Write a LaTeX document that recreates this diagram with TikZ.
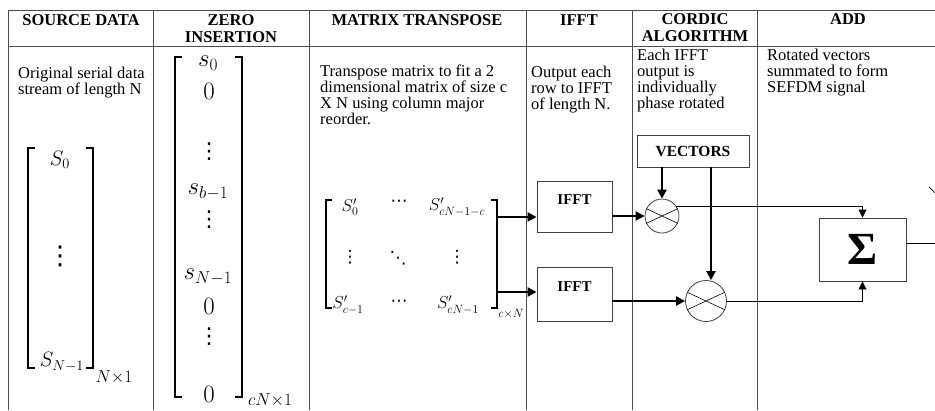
\documentclass[tikz,border=0pt]{standalone}
\usepackage{fontspec}
\setmainfont{Liberation Serif}
\newfontfamily\dotfont{DejaVu Sans}
\usepackage{amsmath}
\usetikzlibrary{arrows.meta}
\tikzset{
  rule/.style={draw=black!70, line width=0.9pt},
  head/.style={anchor=north, align=center, inner sep=0pt, font=\fontsize{16.5}{17}\selectfont\bfseries},
  note/.style={anchor=north west, align=left, inner sep=0pt, font=\fontsize{16.5}{16}\selectfont},
  unit/.style={draw=black!75, line width=0.9pt, inner sep=0pt, font=\fontsize{15}{15}\selectfont\bfseries},
  mixer/.style={draw=black!75, circle, line width=0.8pt, inner sep=0pt},
  bus/.style={line width=2.2pt, -{Triangle[length=9pt,width=9pt]}},
  wire/.style={line width=0.9pt, -{Triangle[length=8pt,width=8pt]}},
  brace/.style={line width=1.6pt},
  ent/.style={inner sep=0pt}
}
\begin{document}
\begin{tikzpicture}[x=1pt,y=-1pt]
  \useasboundingbox (0,0) rectangle (935,410);
  \path[rule] (8,10.5) -- (935,10.5);
  \path[rule] (8,46) -- (935,46);
  \foreach \x in {8,153,309,526,632,757}
    \path[rule] (\x,10.5) -- (\x,410);

  \node[head] (hsrc) at (81,14) {SOURCE DATA};
  \node[head] (hzero) at (231,14) {ZERO\\INSERTION};
  \node[head] (htr) at (417,14) {MATRIX TRANSPOSE};
  \node[head] (hifft) at (579,14) {IFFT};
  \node[head] (hcord) at (695,13) {CORDIC\\ALGORITHM};
  \node[head] (hadd) at (848,13) {ADD};

  \node[note] (tsrc) at (18,67) {Original serial data\\stream of length N};
  \node[note] (ttr) at (320,65) {Transpose matrix to fit a 2\\dimensional matrix of size c\\X N using column major\\reorder.};
  \node[note] (tifft) at (531,66) {Output each\\row to IFFT\\of length N.};
  \node[note] (tcord) at (637,49) {Each IFFT\\output is\\individually\\phase rotated};
  \node[note] (tadd) at (767,49) {Rotated vectors\\summated to form\\SEFDM signal};

  \path[draw, brace] (35,148) -- (28,148) -- (28,368) -- (35,368);
  \path[draw, brace] (86,148) -- (93,148) -- (93,368) -- (86,368);
  \node[ent, font=\fontsize{22}{24}\selectfont] (src0) at (60,160) {$S_0$};
  \node[ent, font=\fontsize{26}{26}\dotfont] (srcdots) at (60,256) {⋮};
  \node[ent, font=\fontsize{22}{24}\selectfont] (srcN) at (62,362) {$S_{N-1}$};
  \node[ent, font=\fontsize{16}{16}\selectfont] (srcdim) at (114,377) {$N{\times}1$};

  \path[draw, brace] (182,57) -- (175,57) -- (175,397) -- (182,397);
  \path[draw, brace] (235,57) -- (242,57) -- (242,397) -- (235,397);
  \node[ent, font=\fontsize{26}{26}\selectfont] (z0) at (208,63) {$s_0$};
  \node[ent, font=\fontsize{26}{26}\selectfont] (z1) at (209,91) {$0$};
  \node[ent, font=\fontsize{22}{22}\dotfont] (z2) at (209,152) {⋮};
  \node[ent, font=\fontsize{26}{26}\selectfont] (z3) at (208,192) {$s_{b-1}$};
  \node[ent, font=\fontsize{22}{22}\dotfont] (z4) at (209,220) {⋮};
  \node[ent, font=\fontsize{26}{26}\selectfont] (z5) at (208,277) {$s_{N-1}$};
  \node[ent, font=\fontsize{26}{26}\selectfont] (z6) at (209,306) {$0$};
  \node[ent, font=\fontsize{22}{22}\dotfont] (z7) at (209,337) {⋮};
  \node[ent, font=\fontsize{26}{26}\selectfont] (z8) at (209,394) {$0$};
  \node[ent, font=\fontsize{16}{16}\selectfont] (zdim) at (270,400) {$cN{\times}1$};

  \path[draw, brace] (332,200) -- (326,200) -- (326,308) -- (332,308);
  \path[draw, brace] (491,200) -- (497,200) -- (497,308) -- (491,308);
  \node[ent, font=\fontsize{17}{17}\selectfont] (t11) at (350,207) {$S'_0$};
  \node[ent, font=\fontsize{17}{17}\dotfont] (t12) at (399,203) {⋯};
  \node[ent, font=\fontsize{17}{17}\selectfont] (t13) at (457,207) {$S'_{cN-1-c}$};
  \node[ent, font=\fontsize{17}{17}\dotfont] (t21) at (350,257) {⋮};
  \node[ent, font=\fontsize{17}{17}\dotfont] (t22) at (398,258) {⋱};
  \node[ent, font=\fontsize{17}{17}\dotfont] (t23) at (457,257) {⋮};
  \node[ent, font=\fontsize{17}{17}\selectfont] (t31) at (348,305) {$S'_{c-1}$};
  \node[ent, font=\fontsize{17}{17}\dotfont] (t32) at (399,303) {⋯};
  \node[ent, font=\fontsize{17}{17}\selectfont] (t33) at (458,305) {$S'_{cN-1}$};
  \node[ent, font=\fontsize{12}{12}\selectfont] (tdim) at (511,314) {$c{\times}N$};
  \coordinate (trow1) at (498,217);
  \coordinate (trow2) at (498,292);

  \node[unit, minimum width=75, minimum height=51, text depth=14pt] (ifft1) at (574.5,206.5) {IFFT};
  \node[unit, minimum width=75, minimum height=54, text depth=14pt] (ifft2) at (574.5,294) {IFFT};
  \node[unit, minimum width=112, minimum height=32, font=\fontsize{15.5}{15.5}\selectfont\bfseries] (vec) at (693,151) {VECTORS};
  \node[mixer, minimum size=34] (c1) at (662,216) {};
  \node[mixer, minimum size=41] (c2) at (706,301) {};
  \node[unit, minimum width=87, minimum height=63, font=\fontsize{46}{46}\selectfont\bfseries] (sum) at (862.5,249.5) {Σ};
  \foreach \c in {c1,c2}
    \path[draw, line width=0.6pt] (\c.155) -- (\c.-25) (\c.25) -- (\c.205);

  \path[draw, bus] (trow1) -- (ifft1.west |- trow1);
  \path[draw, bus] (trow2) -- (ifft2.west |- trow2);
  \path[draw, bus] (ifft1.east |- c1) -- (c1.west);
  \path[draw, bus] (ifft2.east |- c2) -- (c2.west);
  \path[draw, bus] (vec.south -| c1) -- (c1.north);
  \path[draw, bus] ([xshift=5pt]vec.south -| c2) -- ([xshift=5pt]c2.north);
  \path[draw, wire] (c1.35) -| (sum.north);
  \path[draw, wire] (c2.east) -| (sum.south);

  \coordinate (sumout) at (935,243);
  \path[draw, line width=0.9pt] (sum.east |- sumout) -- (sumout);
  \coordinate (tickA) at (929,187);
  \coordinate (tickB) at (935,193);
  \path[draw, line width=0.7pt] (tickA) -- (tickB);
\end{tikzpicture}
\end{document}
